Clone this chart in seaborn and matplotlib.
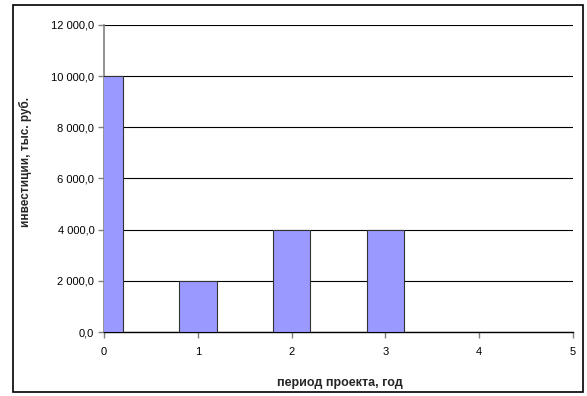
"""
Инвестиции по периодам проекта
"""

import matplotlib
matplotlib.use('Agg')
import matplotlib.pyplot as plt
import matplotlib.ticker as mticker
from matplotlib.patches import Rectangle
import pandas as pd
import seaborn as sns

# Данные
periods = [0, 1, 2, 3]
investments = [10000, 2000, 4000, 4000]
y_ticks = [0, 2000, 4000, 6000, 8000, 10000, 12000]
x_ticks = [0, 1, 2, 3, 4, 5]

sns.set_theme(style="white")
plt.rcParams['font.family'] = ['Liberation Sans', 'DejaVu Sans']

df = pd.DataFrame({'period': periods, 'investments': investments})

fig = plt.figure(figsize=(5.87, 3.96), dpi=100)
ax = fig.add_axes([104 / 587, 64 / 396, 469 / 587, 307 / 396])

sns.barplot(data=df, x='period', y='investments', native_scale=True,
            width=0.4, color='#9999FF', saturation=1,
            edgecolor='#333333', linewidth=0.8, ax=ax, zorder=3)

ax.set_xlim(0, 5)
ax.set_ylim(0, 12000)
ax.set_xticks(x_ticks)
ax.set_yticks(y_ticks)


def rus_fmt(v, pos):
    s = f"{v:,.1f}".replace(',', ' ').replace('.', ',')
    return s


ax.yaxis.set_major_formatter(mticker.FuncFormatter(rus_fmt))
ax.grid(axis='y', color='black', linewidth=0.8, zorder=0)
ax.set_axisbelow(True)

for side in ['top', 'right']:
    ax.spines[side].set_visible(False)
ax.spines['left'].set_color('#808080')
ax.spines['left'].set_linewidth(1.2)
ax.spines['bottom'].set_color('black')
ax.spines['bottom'].set_linewidth(1.0)

ax.tick_params(axis='both', direction='out', length=4, width=1,
               bottom=True, left=True,
               labelsize=8, colors='#808080', labelcolor='black', pad=3)
ax.tick_params(axis='x', pad=7)

ax.set_xlabel('период проекта, год', fontsize=9, fontweight='bold', va='center')
ax.set_ylabel('инвестиции, тыс. руб.', fontsize=8.5, fontweight='bold', va='center')
ax.xaxis.set_label_coords((340 - 104) / 469, -51 / 307)
ax.yaxis.set_label_coords(-79 / 469, (332 - 162) / 307)

# Рамка вокруг диаграммы
fig.patches.append(Rectangle((13 / 587, 4 / 396), 570 / 587, 387 / 396,
                             transform=fig.transFigure, fill=False,
                             edgecolor='black', linewidth=1.2))

plt.savefig('out.png', dpi=100)
plt.close()
